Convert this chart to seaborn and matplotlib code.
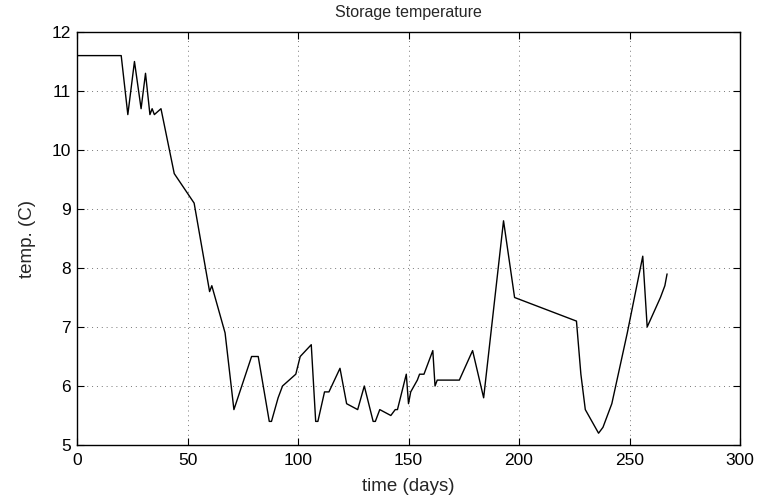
import matplotlib
matplotlib.use("Agg")
import matplotlib.pyplot as plt
import seaborn as sns
import pandas as pd

days = [0, 20, 23, 26, 29, 31, 33, 34, 35, 38, 44, 53, 60, 61, 67, 71, 79, 82, 87, 88,
        91, 93, 99, 101, 106, 108, 109, 112, 114, 119, 122, 127, 130, 134, 135, 137, 142,
        144, 145, 149, 150, 151, 154, 155, 157, 161, 162, 163, 173, 179, 184, 193, 198,
        226, 228, 230, 236, 238, 242, 249, 256, 258, 264, 266, 267]
temps = [11.6, 11.6, 10.6, 11.5, 10.7, 11.3, 10.6, 10.7, 10.6, 10.7, 9.6, 9.1, 7.6, 7.7,
         6.9, 5.6, 6.5, 6.5, 5.4, 5.4, 5.8, 6.0, 6.2, 6.5, 6.7, 5.4, 5.4, 5.9, 5.9, 6.3,
         5.7, 5.6, 6.0, 5.4, 5.4, 5.6, 5.5, 5.6, 5.6, 6.2, 5.7, 5.9, 6.1, 6.2, 6.2, 6.6,
         6.0, 6.1, 6.1, 6.6, 5.8, 8.8, 7.5, 7.1, 6.2, 5.6, 5.2, 5.3, 5.7, 6.9, 8.2, 7.0,
         7.5, 7.7, 7.9]
x_ticks = [0, 50, 100, 150, 200, 250, 300]
y_ticks = [5, 6, 7, 8, 9, 10, 11, 12]

sns.set_style("white")
plt.rcParams['font.family'] = ['Liberation Sans', 'DejaVu Sans']

df = pd.DataFrame({"time": days, "temp": temps})

fig = plt.figure(figsize=(7.62, 4.99), dpi=100)
ax = fig.add_axes([77/762, 1-445/499, 663/762, 413/499])
sns.lineplot(data=df, x="time", y="temp", ax=ax, color="black", linewidth=1.0,
             sort=False, estimator=None)
ax.set_xlim(0, 300)
ax.set_ylim(5, 12)
ax.set_xticks(x_ticks)
ax.set_yticks(y_ticks)
ax.grid(True, linestyle=(0, (1, 4)), color="#777777", linewidth=0.7)
ax.tick_params(direction="in", length=5, width=0.8, labelsize=12.5,
               top=True, right=True, bottom=True, left=True, colors="black")
ax.tick_params(axis="x", pad=5.5)
ax.tick_params(axis="y", pad=4.5)
for s in ax.spines.values():
    s.set_visible(True)
    s.set_color("black")
    s.set_linewidth(1.0)
ax.set_xlabel("time (days)", fontsize=13.5)
ax.set_ylabel("temp. (C)", fontsize=13.5)
ax.xaxis.set_label_coords(0.5, -0.08)
ax.yaxis.set_label_coords(-0.062, 0.5)
ax.set_title("Storage temperature", fontsize=11.5, pad=10.5)
fig.savefig("out.png", dpi=100)
